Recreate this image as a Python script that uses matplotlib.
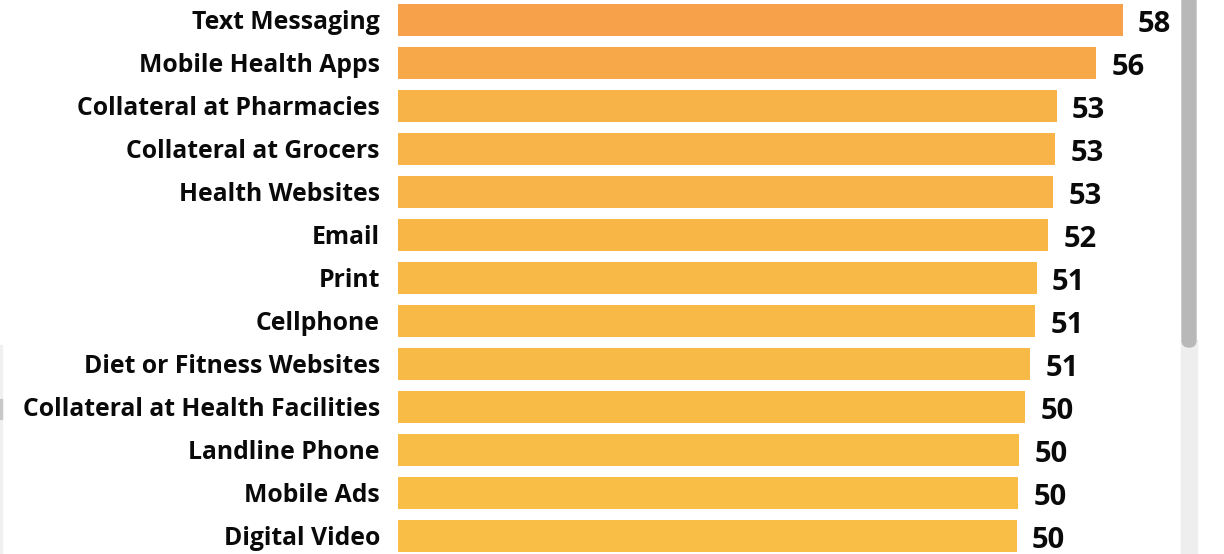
import matplotlib.pyplot as plt
import numpy as np
from matplotlib.colors import LinearSegmentedColormap, Normalize
from matplotlib.patches import Rectangle, FancyBboxPatch
from matplotlib.transforms import IdentityTransform

categories = ['Text Messaging', 'Mobile Health Apps', 'Collateral at Pharmacies',
              'Collateral at Grocers', 'Health Websites', 'Email', 'Print',
              'Cellphone', 'Diet or Fitness Websites', 'Collateral at Health Facilities',
              'Landline Phone', 'Mobile Ads', 'Digital Video']
values = [58.2, 56.1, 52.9, 52.8, 52.6, 52.2, 51.3, 51.2, 50.8, 50.4, 49.9, 49.8, 49.7]

W, H = 1224, 554
fig = plt.figure(figsize=(W / 100, H / 100), dpi=100)
ax = fig.add_axes([398 / W, 0, (1180 - 398) / W, 1])

# colour by value, yellow (low) -> orange (high)
cmap = LinearSegmentedColormap.from_list('yo', ['#F8BE46', '#F7A24B'])
norm = Normalize(min(values), max(values))
cols = [cmap(norm(v)) for v in values]

pos = np.arange(len(categories))
bars = ax.barh(pos, values, height=0.744, color=cols)

for b, v in zip(bars, values):
    ax.annotate('%d' % round(v), (b.get_width(), b.get_y() + b.get_height() / 2),
                xytext=(11, -3.5), textcoords='offset points', va='center', ha='left',
                fontsize=21, fontweight='bold', family='Open Sans', color='#0A0A0A')

ax.set_xlim(0, (1180 - 398) / 12.45)
ax.set_ylim(12.42, -0.465)
ax.set_yticks(pos)
ax.set_yticklabels(categories, fontsize=17.8, fontweight='bold', family='Open Sans', color='#0A0A0A')
ax.tick_params(axis='y', length=0, pad=13)
ax.set_xticks([])
for s in ax.spines.values():
    s.set_visible(False)

# scrollbar on the right
idt = IdentityTransform()
fig.add_artist(Rectangle((1181, 0), 16, 214, color='#EEEEEE', transform=idt))
fig.add_artist(FancyBboxPatch((1182, 207), 14, 400, boxstyle='round,pad=0,rounding_size=7',
                              color='#B8B8B8', transform=idt))
# bit of another visual at the left edge
fig.add_artist(Rectangle((0, 0), 2, 209, color='#F0F0F0', transform=idt))
fig.add_artist(Rectangle((0, 135), 2, 20, color='#C8C8C8', transform=idt))

fig.savefig('out.png', dpi=100)
